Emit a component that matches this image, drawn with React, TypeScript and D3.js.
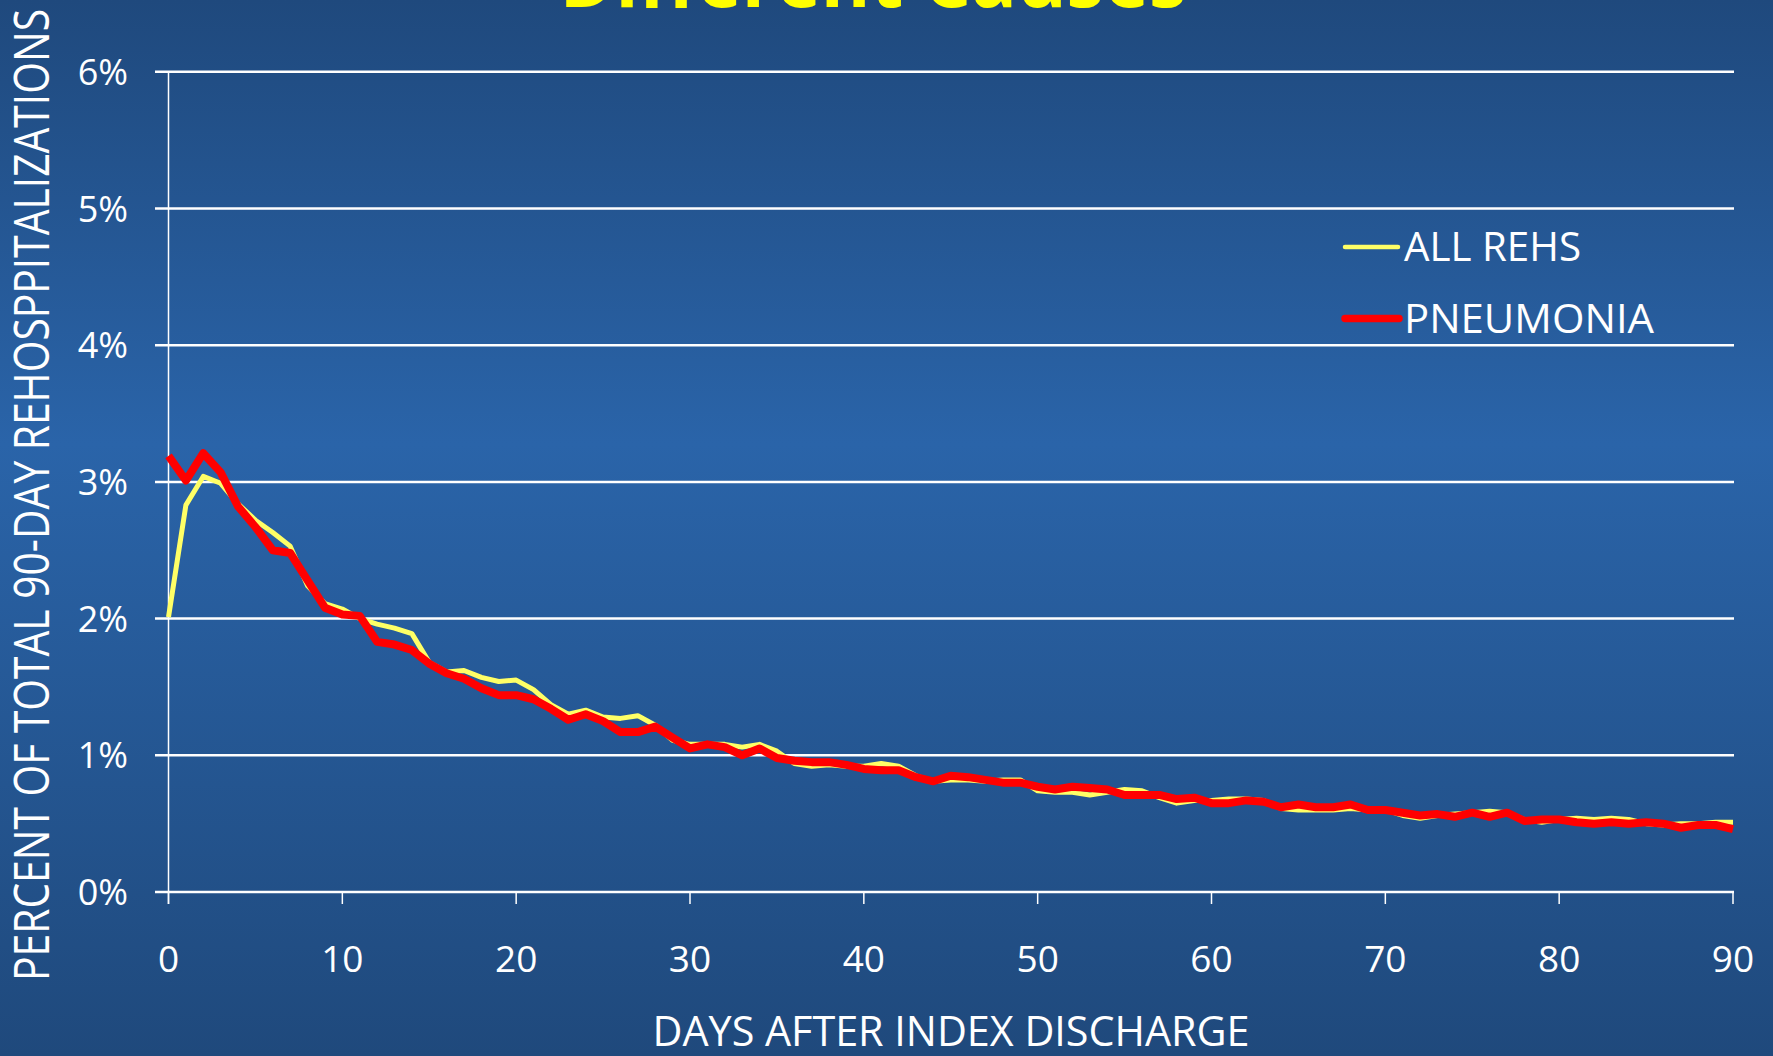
import React from "react";
import * as d3 from "d3";

const days: number[] = d3.range(0, 91);

const allRehs: number[] = [
  2.01, 2.83, 3.04, 2.99, 2.84, 2.72, 2.63, 2.53, 2.24, 2.11,
  2.07, 2.0, 1.96, 1.93, 1.89, 1.68, 1.61, 1.62, 1.57, 1.54,
  1.55, 1.48, 1.37, 1.3, 1.33, 1.28, 1.27, 1.29, 1.22, 1.11,
  1.08, 1.08, 1.08, 1.06, 1.08, 1.03, 0.94, 0.92, 0.93, 0.92,
  0.92, 0.94, 0.92, 0.85, 0.81, 0.82, 0.82, 0.81, 0.82, 0.82,
  0.74, 0.73, 0.73, 0.71, 0.73, 0.75, 0.74, 0.69, 0.65, 0.67,
  0.67, 0.68, 0.68, 0.67, 0.61, 0.6, 0.6, 0.6, 0.61, 0.6,
  0.6, 0.56, 0.54, 0.56, 0.57, 0.58, 0.59, 0.58, 0.53, 0.51,
  0.53, 0.54, 0.53, 0.54, 0.53, 0.5, 0.49, 0.5, 0.5, 0.51,
  0.51,
];

const pneumonia: number[] = [
  3.19, 3.01, 3.21, 3.07, 2.82, 2.67, 2.5, 2.48, 2.28, 2.08,
  2.03, 2.02, 1.83, 1.81, 1.77, 1.67, 1.6, 1.56, 1.49, 1.44,
  1.44, 1.41, 1.34, 1.26, 1.3, 1.25, 1.17, 1.17, 1.21, 1.13,
  1.05, 1.08, 1.06, 1.0, 1.05, 0.98, 0.96, 0.95, 0.95, 0.93,
  0.9, 0.89, 0.89, 0.84, 0.81, 0.85, 0.84, 0.82, 0.8, 0.8,
  0.77, 0.75, 0.77, 0.76, 0.75, 0.71, 0.71, 0.71, 0.68, 0.69,
  0.65, 0.65, 0.67, 0.66, 0.62, 0.64, 0.62, 0.62, 0.64, 0.6,
  0.6, 0.58, 0.56, 0.57, 0.55, 0.58, 0.55, 0.58, 0.52, 0.53,
  0.53, 0.51, 0.5, 0.51, 0.5, 0.51, 0.5, 0.47, 0.49, 0.49,
  0.46,
];

const xTicks: number[] = [0, 10, 20, 30, 40, 50, 60, 70, 80, 90];
const yTicks: number[] = [0, 1, 2, 3, 4, 5, 6];

const titleText = "Different Causes";
const xTitle = "DAYS AFTER INDEX DISCHARGE";
const yTitle = "PERCENT OF TOTAL 90-DAY REHOSPPITALIZATIONS";
const legendLabels: string[] = ["ALL REHS", "PNEUMONIA"];

const W = 1773;
const H = 1056;
const FONT = "'Open Sans', 'Noto Sans', sans-serif";

export default function App() {
  const x = d3.scaleLinear().domain([0, 90]).range([168.5, 1733]);
  const y = d3.scaleLinear().domain([0, 6]).range([892, 71.8]);

  const line = d3
    .line<number>()
    .x((_, i) => x(days[i]))
    .y((v) => y(v))
    .curve(d3.curveLinear);

  return (
    <svg
      width={W}
      height={H}
      style={{ position: "absolute", left: 0, top: 0 }}
      xmlns="http://www.w3.org/2000/svg"
    >
      <defs>
        <linearGradient id="bg" x1="0" y1="0" x2="0" y2="1">
          <stop offset="0" stopColor="#1F497D" />
          <stop offset="0.42" stopColor="#2A64A9" />
          <stop offset="1" stopColor="#1F497C" />
        </linearGradient>
      </defs>
      <rect x={0} y={0} width={W} height={H} fill="url(#bg)" />

      <text
        x={873}
        y={7}
        textAnchor="middle"
        fill="#FFFF00"
        fontFamily={FONT}
        fontWeight="bold"
        fontSize={80}
        textLength={627}
        lengthAdjust="spacingAndGlyphs"
      >
        {titleText}
      </text>

      {/* gridlines */}
      {yTicks.map((t) => (
        <line
          key={"g" + t}
          x1={155}
          x2={1734}
          y1={y(t)}
          y2={y(t)}
          stroke="#FFFFFF"
          strokeWidth={2.5}
        />
      ))}
      {/* y axis */}
      <line x1={x(0)} x2={x(0)} y1={y(6)} y2={904} stroke="#FFFFFF" strokeWidth={1.5} />
      {/* x ticks */}
      {xTicks.map((t) => (
        <line
          key={"xt" + t}
          x1={x(t)}
          x2={x(t)}
          y1={y(0)}
          y2={904}
          stroke="#FFFFFF"
          strokeWidth={1.5}
        />
      ))}
      {/* y tick labels */}
      {yTicks.map((t) => (
        <text
          key={"yl" + t}
          x={128}
          y={y(t) + 13}
          textAnchor="end"
          fill="#FFFFFF"
          fontFamily={FONT}
          fontSize={36}
        >
          {t + "%"}
        </text>
      ))}
      {/* x tick labels */}
      {xTicks.map((t) => (
        <text
          key={"xl" + t}
          x={x(t)}
          y={972}
          textAnchor="middle"
          fill="#FFFFFF"
          fontFamily={FONT}
          fontSize={37}
        >
          {t}
        </text>
      ))}

      <text
        x={951}
        y={1046}
        textAnchor="middle"
        fill="#FFFFFF"
        fontFamily={FONT}
        fontSize={42}
        textLength={597}
        lengthAdjust="spacingAndGlyphs"
      >
        {xTitle}
      </text>

      <text
        transform="translate(49,495) rotate(-90)"
        textAnchor="middle"
        fill="#FFFFFF"
        fontFamily={FONT}
        fontSize={50}
        textLength={972}
        lengthAdjust="spacingAndGlyphs"
      >
        {yTitle}
      </text>

      {/* series */}
      <path
        d={line(allRehs) || ""}
        fill="none"
        stroke="#FFFF66"
        strokeWidth={5}
        strokeLinejoin="round"
      />
      <path
        d={line(pneumonia) || ""}
        fill="none"
        stroke="#FF0000"
        strokeWidth={8}
        strokeLinejoin="round"
      />

      {/* legend */}
      <line x1={1345} x2={1398} y1={247} y2={247} stroke="#FFFF66" strokeWidth={4.5} strokeLinecap="round" />
      <text
        x={1404}
        y={261}
        fill="#FFFFFF"
        fontFamily={FONT}
        fontSize={41}
        textLength={177}
        lengthAdjust="spacingAndGlyphs"
      >
        {legendLabels[0]}
      </text>
      <line x1={1345} x2={1399} y1={318.5} y2={318.5} stroke="#FF0000" strokeWidth={7.5} strokeLinecap="round" />
      <text
        x={1404}
        y={333}
        fill="#FFFFFF"
        fontFamily={FONT}
        fontSize={41}
        textLength={250}
        lengthAdjust="spacingAndGlyphs"
      >
        {legendLabels[1]}
      </text>
    </svg>
  );
}
